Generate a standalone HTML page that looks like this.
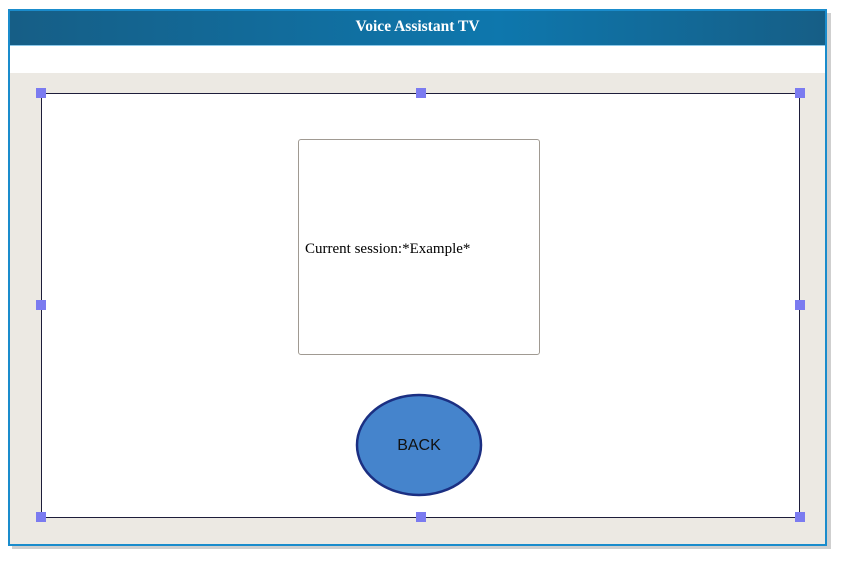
<!DOCTYPE html>
<html><head><meta charset="utf-8"><style>
body{margin:0;width:841px;height:561px;background:#fff;position:relative;overflow:hidden;font-family:"Liberation Serif",serif}
.a{position:absolute;box-sizing:border-box}
.h{width:10px;height:10px;background:#7b7bf0;position:absolute}
</style></head><body>
<div class="a" style="left:12px;top:13px;width:819px;height:536px;background:#cfcfcf"></div>
<div class="a" style="left:8px;top:9px;width:819px;height:537px;border:2px solid #1a8ccc;background:#ece9e3"></div>
<div class="a" style="left:10px;top:11px;width:815px;height:35px;background:linear-gradient(90deg,#165e86 0%,#0e77ad 60%,#165e86 100%);color:#fff;font-weight:bold;font-size:15.5px;text-align:center;line-height:32px;border-bottom:1px solid #8cc8e8">Voice Assistant TV</div>
<div class="a" style="left:10px;top:46px;width:815px;height:27px;background:#fff"></div>
<div class="a" style="left:41px;top:93px;width:759px;height:425px;background:#fff;border:1.5px solid #1d1d3a"></div>
<div class="a" style="left:298px;top:139px;width:242px;height:216px;border:1.5px solid #a09a92;border-radius:3px;background:#fff"></div>
<div class="a" style="left:305px;top:241px;font-size:15px;color:#000;white-space:nowrap">Current session:*Example*</div>
<svg class="a" style="left:350px;top:390px" width="140" height="110"><ellipse cx="69" cy="55" rx="62" ry="50" fill="#4584cc" stroke="#1b2f82" stroke-width="2.5"/><text x="69" y="60" text-anchor="middle" font-family="Liberation Sans,sans-serif" font-size="16" fill="#111">BACK</text></svg>
<div class="h" style="left:36px;top:88px"></div>
<div class="h" style="left:416px;top:88px"></div>
<div class="h" style="left:795px;top:88px"></div>
<div class="h" style="left:36px;top:300px"></div>
<div class="h" style="left:795px;top:300px"></div>
<div class="h" style="left:36px;top:512px"></div>
<div class="h" style="left:416px;top:512px"></div>
<div class="h" style="left:795px;top:512px"></div>
</body></html>
